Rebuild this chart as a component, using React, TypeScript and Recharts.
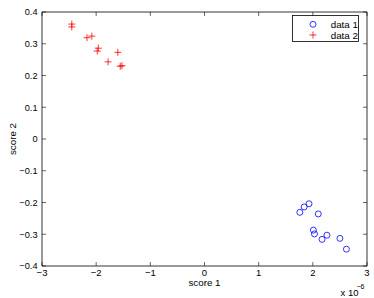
import React from 'react';
import { ScatterChart, Scatter, XAxis, YAxis, ReferenceArea, Legend, Label } from 'recharts';

// values (x in units of 1e-6)
const data1X = [1.93, 1.84, 1.76, 2.1, 2.01, 2.03, 2.17, 2.26, 2.5, 2.62];
const data1Y = [-0.204, -0.214, -0.231, -0.236, -0.287, -0.299, -0.316, -0.303, -0.313, -0.347];
const data2X = [-2.45, -2.45, -2.17, -2.08, -1.96, -1.98, -1.78, -1.6, -1.555, -1.523];
const data2Y = [0.362, 0.353, 0.319, 0.324, 0.286, 0.277, 0.243, 0.273, 0.229, 0.231];

const xTicks = [-3, -2, -1, 0, 1, 2, 3];
const xTickLabels = ['\u22123', '\u22122', '\u22121', '0', '1', '2', '3'];
const yTicks = [-0.4, -0.3, -0.2, -0.1, 0, 0.1, 0.2, 0.3, 0.4];
const yTickLabels = ['\u22120.4', '\u22120.3', '\u22120.2', '\u22120.1', '0', '0.1', '0.2', '0.3', '0.4'];

const series1 = data1X.map((x, i) => ({ x, y: data1Y[i] }));
const series2 = data2X.map((x, i) => ({ x, y: data2Y[i] }));

const W = 374;
const H = 298;
const PLOT_W = 325;
const PLOT_H = 254;
const FONT = '"Liberation Sans", Arial, sans-serif';
const BLUE = '#0000ff';
const RED = '#ff0000';

const XTick = (props: any) => {
  const { x, y, payload } = props;
  const label = xTickLabels[xTicks.indexOf(payload.value)];
  return (
    <g>
      <line x1={x} x2={x} y1={y} y2={y - 4} stroke="#000" strokeWidth={0.6} />
      <line x1={x} x2={x} y1={y - PLOT_H} y2={y - PLOT_H + 4} stroke="#000" strokeWidth={0.6} />
      <text x={x} y={y + 10} textAnchor="middle" fontSize={9.5} fontFamily={FONT} fill="#000">
        {label}
      </text>
    </g>
  );
};

const YTick = (props: any) => {
  const { x, y, payload } = props;
  const idx = yTicks.findIndex((t) => Math.abs(t - payload.value) < 1e-9);
  return (
    <g>
      <line x1={x} x2={x + 4} y1={y} y2={y} stroke="#000" strokeWidth={0.6} />
      <line x1={x + PLOT_W} x2={x + PLOT_W - 4} y1={y} y2={y} stroke="#000" strokeWidth={0.6} />
      <text x={x - 4.5} y={y + 3.3} textAnchor="end" fontSize={9.2} fontFamily={FONT} fill="#000">
        {yTickLabels[idx]}
      </text>
    </g>
  );
};

const Circle = (props: any) => (
  <circle cx={props.cx} cy={props.cy} r={3} fill="none" stroke={BLUE} strokeWidth={0.8} />
);

const Plus = (props: any) => {
  const { cx, cy } = props;
  return (
    <g stroke={RED} strokeWidth={0.8}>
      <line x1={cx - 3.5} x2={cx + 3.5} y1={cy} y2={cy} />
      <line x1={cx} x2={cx} y1={cy - 3.5} y2={cy + 3.5} />
    </g>
  );
};

const LegendBox = () => (
  <svg width={67} height={27} style={{ display: 'block', overflow: 'visible' }}>
    <rect x={0.5} y={0.5} width={66} height={26} fill="#fff" stroke="#000" strokeWidth={0.8} />
    <circle cx={21} cy={9.3} r={3} fill="none" stroke={BLUE} strokeWidth={0.8} />
    <g stroke={RED} strokeWidth={0.8}>
      <line x1={17.5} x2={24.5} y1={20} y2={20} />
      <line x1={21} x2={21} y1={16.5} y2={23.5} />
    </g>
    <text x={38.7} y={13} fontSize={9.8} fontFamily={FONT} fill="#000">data 1</text>
    <text x={38.7} y={23.7} fontSize={9.8} fontFamily={FONT} fill="#000">data 2</text>
  </svg>
);

export default function App() {
  return (
    <div style={{ position: 'fixed', left: 0, top: 0, width: W, height: H, background: '#fff' }}>
      <ScatterChart width={W} height={H} margin={{ top: 12, right: 7, bottom: 0, left: 0 }}>
        <XAxis
          type="number"
          dataKey="x"
          domain={[-3, 3]}
          ticks={xTicks}
          height={32}
          tickSize={0}
          tickMargin={0}
          tickLine={false}
          axisLine={false}
          tick={<XTick />}
          interval={0}
        >
          <Label
            content={(p: any) => {
              const vb = p.viewBox;
              return (
                <g fontFamily={FONT} fill="#000">
                  <text x={vb.x + vb.width / 2} y={vb.y + 20} textAnchor="middle" fontSize={9.8}>
                    score 1
                  </text>
                  <text x={340.5} y={296} fontSize={9.5}>x 10</text>
                  <text x={356.5} y={288.5} fontSize={7}>{'\u22126'}</text>
                </g>
              );
            }}
          />
        </XAxis>
        <YAxis
          type="number"
          dataKey="y"
          domain={[-0.4, 0.4]}
          ticks={yTicks}
          width={42}
          tickSize={0}
          tickMargin={0}
          tickLine={false}
          axisLine={false}
          tick={<YTick />}
          interval={0}
        >
          <Label
            content={(p: any) => {
              const vb = p.viewBox;
              const cy = vb.y + vb.height / 2;
              return (
                <text
                  x={16}
                  y={cy}
                  transform={`rotate(-90 16 ${cy})`}
                  textAnchor="middle"
                  fontSize={9.8}
                  fontFamily={FONT}
                  fill="#000"
                >
                  score 2
                </text>
              );
            }}
          />
        </YAxis>
        <ReferenceArea x1={-3} x2={3} y1={-0.4} y2={0.4} fill="none" stroke="#000" strokeWidth={0.8} fillOpacity={0} />
        <Scatter name="data 1" data={series1} shape={<Circle />} isAnimationActive={false} />
        <Scatter name="data 2" data={series2} shape={<Plus />} isAnimationActive={false} />
        <Legend
          layout="horizontal"
          align="center"
          verticalAlign="middle"
          content={<LegendBox />}
          wrapperStyle={{ position: 'absolute', left: 292, top: 15, width: 67, height: 27 }}
        />
      </ScatterChart>
    </div>
  );
}
